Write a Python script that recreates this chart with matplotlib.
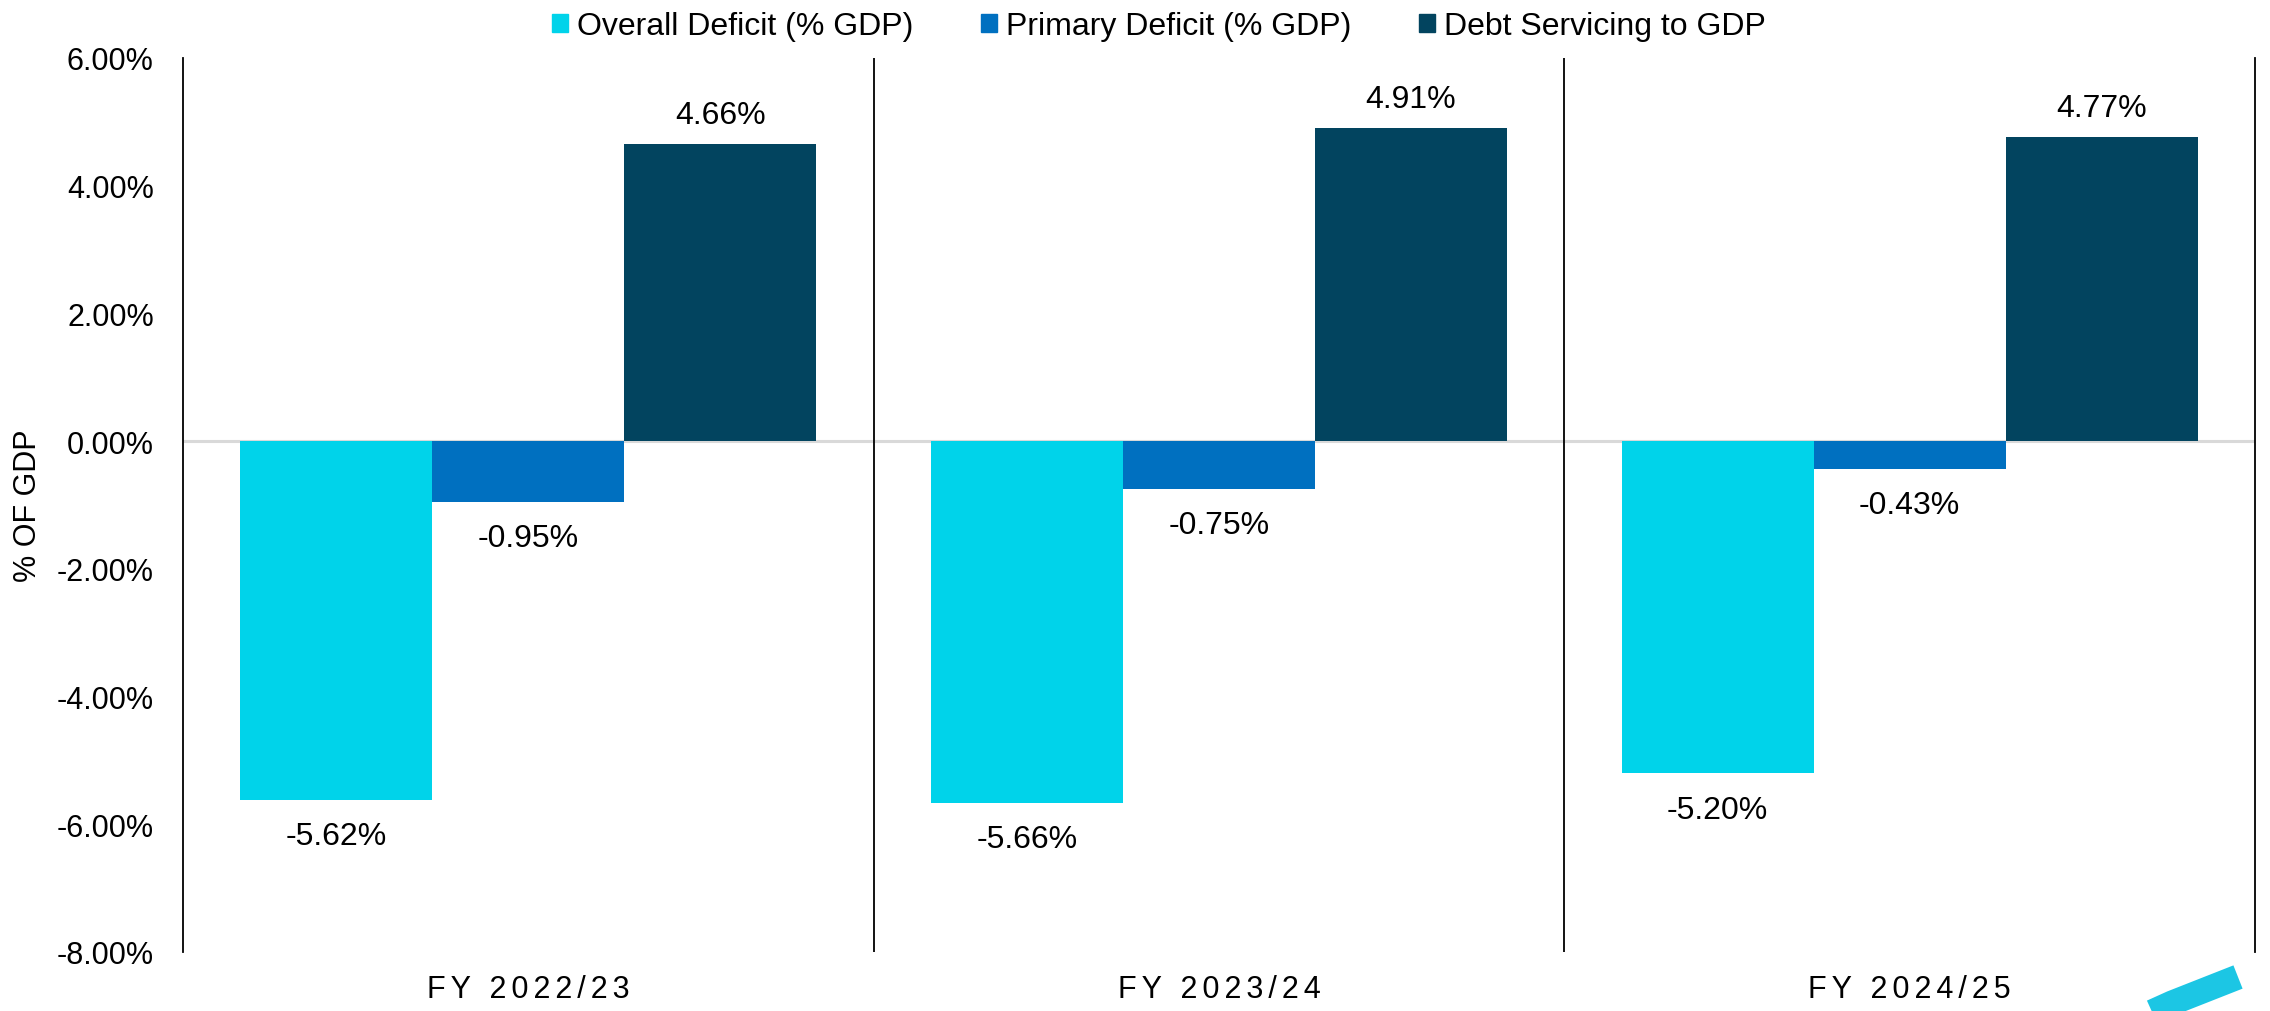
import matplotlib
matplotlib.use("Agg")
import matplotlib.pyplot as plt
import matplotlib.patches as mpatches
from matplotlib.lines import Line2D
from matplotlib.ticker import PercentFormatter
import numpy as np

plt.rcParams["font.family"] = ["Liberation Sans", "DejaVu Sans"]
plt.rcParams["axes.unicode_minus"] = False

# Fiscal years and the three fiscal ratios (% of GDP).
years = ["FY 2022/23", "FY 2023/24", "FY 2024/25"]
series_names = ["Overall Deficit (% GDP)", "Primary Deficit (% GDP)", "Debt Servicing to GDP"]
overall_deficit = [-5.62, -5.66, -5.20]
primary_deficit = [-0.95, -0.75, -0.43]
debt_servicing = [4.66, 4.91, 4.77]
y_ticks = [6, 4, 2, 0, -2, -4, -6, -8]

COLORS = ["#00D3EA", "#0070C0", "#02445F"]
FS = 22
W, H = 2270, 1012
L, R, T, B = 183, 2255, 59, 953

fig = plt.figure(figsize=(W / 100, H / 100), dpi=100)
ax = fig.add_axes([L / W, 1 - B / H, (R - L) / W, (B - T) / H])

x = np.arange(len(years))
width = 0.278
for i, (vals, color, name) in enumerate(zip([overall_deficit, primary_deficit, debt_servicing],
                                            COLORS, series_names)):
    pos = x + (i - 1) * width
    ax.bar(pos, vals, width, color=color, label=name, zorder=2)
    for px, v in zip(pos, vals):
        off = 15 if v >= 0 else -32
        ax.annotate(f"{v:.2f}%", (px, v), xytext=(0, off), textcoords="offset points",
                    ha="center", va="baseline", fontsize=23, color="black")

# zero line and category separators
ax.axhline(0, color="#D9D9D9", lw=2.2, zorder=1)
for b in [0.5, 1.5]:
    ax.axvline(b, color="black", lw=1.3, zorder=3)

ax.set_xlim(-0.5, 2.5)
ax.set_ylim(-8, 6)
ax.set_yticks(y_ticks)
ax.yaxis.set_major_formatter(PercentFormatter(decimals=2))
ax.set_xticks(x)
# slightly letter-spaced category labels
ax.set_xticklabels(["\u200a\u200a".join(y) for y in years])
ax.tick_params(axis="both", length=0, labelsize=FS)
ax.tick_params(axis="y", pad=21)
ax.tick_params(axis="x", pad=16)

for s in ["top", "bottom"]:
    ax.spines[s].set_visible(False)
for s in ["left", "right"]:
    ax.spines[s].set_linewidth(1.3)
    ax.spines[s].set_color("black")

fig.text(28 / W, 1 - (T + B) / 2 / H, "% OF GDP", rotation=90, ha="center", va="center",
         fontsize=FS)

handles = [mpatches.Patch(color=c, label=n) for c, n in zip(COLORS, series_names)]
fig.legend(handles=handles, loc="center", bbox_to_anchor=(1159 / W, 1 - 27 / H),
           ncol=3, frameon=False, fontsize=23, handlelength=0.5, handleheight=0.5,
           handletextpad=0.3, columnspacing=2.1, borderpad=0, borderaxespad=0)

# corner swoosh
fig.add_artist(Line2D([2110 / W, 2172 / W, 2238 / W],
                      [1 - 1032 / H, 1 - 1004 / H, 1 - 978 / H],
                      transform=fig.transFigure, color="#1CC6E4", lw=18,
                      solid_capstyle="butt", solid_joinstyle="round"))

fig.savefig("out.png", dpi=100)
